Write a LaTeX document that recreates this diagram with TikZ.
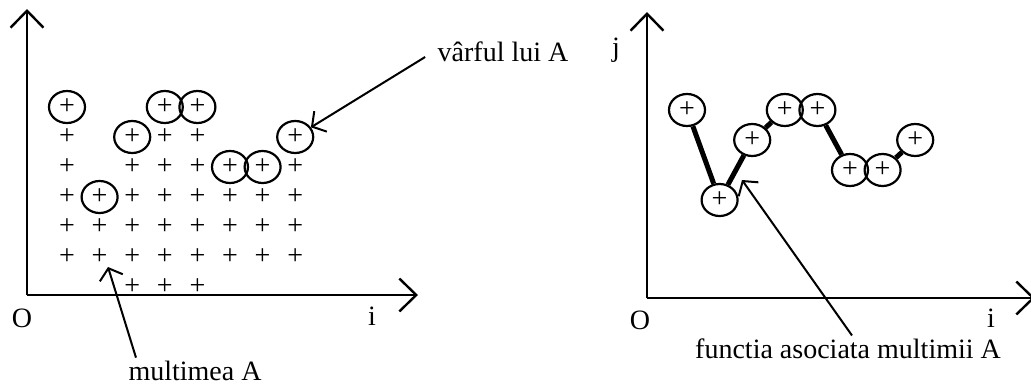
\documentclass[tikz,border=0pt]{standalone}
\usepackage{fontspec}
\setmainfont{Liberation Serif}
\usetikzlibrary{arrows.meta,shapes.geometric}

\begin{document}
\begin{tikzpicture}[x=1pt, y=-1pt,
    every node/.style={font=\fontsize{28}{32}\selectfont},
    axis/.style={line width=2.4pt, -{Straight Barb[length=17pt, width=33pt]}},
    ptr/.style={line width=2pt, -{Straight Barb[length=10pt, width=24pt]}},
    elem/.style={inner sep=0pt},
    peak/.style={draw, ellipse, line width=2.2pt, minimum width=36pt,
      minimum height=32pt, inner sep=0pt},
    link/.style={line width=5pt},
  ]
    \clip (0,0) rectangle (1031,388);

    % Left: the set A
    \coordinate (oL) at (27,295);
    \coordinate (yL) at (27,9);
    \coordinate (xL) at (418,295);
    \draw[axis] (oL) -- (yL);
    \draw[axis] (oL) -- (xL);
    \node (lblOL) at (22,318) {O};
    \node (lblIL) at (372,316) {i};
    \foreach \lo/\hi [count=\k] in {1/6,1/3,0/5,0/6,0/6,1/4,1/4,1/5} {
      \pgfmathtruncatemacro\below{\hi-1}
      \foreach \r in {\lo,...,\below}
        \node[elem] (p\k-\r) at ({67+32.6*(\k-1)},{287-30*\r}) {+};
      \node[peak] (a\k) at ({67+32.6*(\k-1)},{287-30*\hi}) {+};
    }
    \node (ma) at (195,371) {multimea A};
    \coordinate (maTip) at (108,267);
    \draw[ptr] ([xshift=11pt]ma.north west) -- (maTip);
    \node (vl) at (503,52) {vârful lui A};
    \draw[ptr] ([shift={(-9pt,-5pt)}]vl.west) -- (a8);

    % Right: the associated function
    \coordinate (oR) at (647,298);
    \coordinate (yR) at (647,12);
    \coordinate (xR) at (1035,298);
    \draw[axis] (oR) -- (yR);
    \draw[axis] (oR) -- (xR);
    \node (lblOR) at (640,320) {O};
    \node (lblIR) at (991,318) {i};
    \node (lblJ) at (616,50) {j};
    \foreach \hi [count=\k] in {6,3,5,6,6,4,4,5}
      \node[peak] (b\k) at ({687+32.6*(\k-1)},{290-30*\hi}) {+};
    \draw[link] (b1) -- (b2);
    \draw[link] (b2) -- (b3);
    \draw[link] (b3) -- (b4);
    \draw[link] (b5) -- (b6);
    \draw[link] (b7) -- (b8);
    \node (fa) at (848,349) {functia asociata multimii A};
    \coordinate (faTip) at (742,180);
    \draw[ptr] ([xshift=4pt]fa.north) -- (faTip);
  \end{tikzpicture}
\end{document}
